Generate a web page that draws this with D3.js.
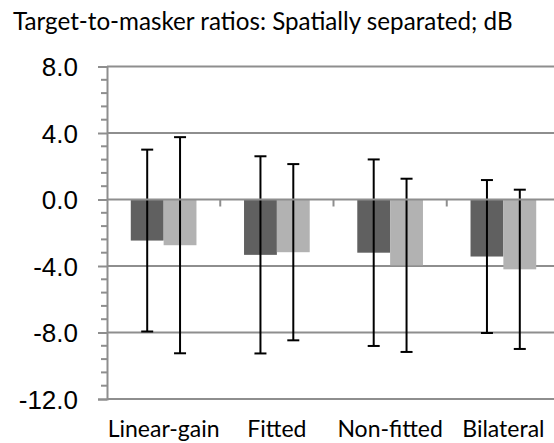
<!DOCTYPE html>
<html>
<head>
<meta charset="utf-8">
<script src="https://cdn.jsdelivr.net/npm/d3@7"></script>
<style>
  body { margin: 0; background: #fff; }
  svg { display: block; font-family: Lato, "Open Sans", sans-serif; }
</style>
</head>
<body>
<div id="chart"></div>
<script>
// chart values
const categories = ["Linear-gain", "Fitted", "Non-fitted", "Bilateral"];
const series = ["dark", "light"];
const darkMeans  = [-2.47, -3.33, -3.20, -3.43];
const darkErrs   = [ 5.47,  5.93,  5.61,  4.60];
const lightMeans = [-2.75, -3.17, -3.96, -4.20];
const lightErrs  = [ 6.50,  5.30,  5.21,  4.79];
const yTicks = [8, 4, 0, -4, -8, -12];
const titleText = "Target-to-masker ratios: Spatially separated; dB";

const width = 554, height = 443;
const colors = { dark: "#606060", light: "#b2b2b2" };
const gridColor = "#8e8e8e";

const svg = d3.select("#chart").append("svg")
  .attr("width", width)
  .attr("height", height);

// plot area runs a bit past the right edge, like the original
const x0 = d3.scaleBand().domain(categories).range([107, 560]);
const x1 = d3.scaleBand().domain(series)
  .range([x0.bandwidth() * 0.21, x0.bandwidth() * 0.79]);
const y = d3.scaleLinear().domain([-12, 8]).range([399, 66.5]);

// gridlines
svg.append("g")
  .selectAll("line")
  .data(yTicks.filter(t => t !== 0))
  .join("line")
    .attr("x1", 107).attr("x2", 560)
    .attr("y1", d => y(d)).attr("y2", d => y(d))
    .attr("stroke", gridColor)
    .attr("stroke-width", 2);

// minor ticks every 0.8
const minor = d3.range(-12, 8.01, 0.8).filter(v => Math.abs(v / 4 - Math.round(v / 4)) > 1e-6);
svg.append("g")
  .selectAll("line")
  .data(minor)
  .join("line")
    .attr("x1", 101).attr("x2", 107)
    .attr("y1", d => y(d)).attr("y2", d => y(d))
    .attr("stroke", gridColor)
    .attr("stroke-width", 2);

const yAxis = svg.append("g")
  .attr("transform", "translate(107,0)")
  .call(d3.axisLeft(y).tickValues(yTicks).tickSize(9)
    .tickFormat(d => d.toFixed(1)));
yAxis.select(".domain").attr("stroke", gridColor).attr("stroke-width", 2);
yAxis.selectAll(".tick line").attr("stroke", gridColor).attr("stroke-width", 2);
yAxis.selectAll(".tick text")
  .attr("font-size", 26)
  .attr("fill", "#000")
  .attr("dy", "0.36em")
  .attr("x", -29);

// bars
const rows = categories.map((c, i) => ({
  cat: c,
  vals: [
    { key: "dark",  mean: darkMeans[i],  err: darkErrs[i] },
    { key: "light", mean: lightMeans[i], err: lightErrs[i] }
  ]
}));

const groups = svg.append("g")
  .selectAll("g")
  .data(rows)
  .join("g")
    .attr("transform", d => `translate(${x0(d.cat)},0)`);

groups.selectAll("rect")
  .data(d => d.vals)
  .join("rect")
    .attr("x", d => x1(d.key))
    .attr("width", x1.bandwidth())
    .attr("y", d => y(Math.max(0, d.mean)))
    .attr("height", d => Math.abs(y(d.mean) - y(0)))
    .attr("fill", d => colors[d.key]);

// x axis along zero with category ticks pointing down
const xAxis = svg.append("g")
  .attr("transform", `translate(0,${y(0)})`);
xAxis.append("line")
  .attr("x1", 107).attr("x2", 560)
  .attr("stroke", gridColor).attr("stroke-width", 2);
xAxis.selectAll(".sep")
  .data(categories.slice(1))
  .join("line")
    .attr("class", "sep")
    .attr("x1", d => x0(d)).attr("x2", d => x0(d))
    .attr("y1", 0).attr("y2", 7)
    .attr("stroke", gridColor).attr("stroke-width", 2);

// error bars
const eb = groups.selectAll("g.err")
  .data(d => d.vals)
  .join("g")
    .attr("class", "err")
    .attr("transform", d => `translate(${x1(d.key) + x1.bandwidth() / 2},0)`);
eb.append("line")
  .attr("y1", d => y(d.mean + d.err))
  .attr("y2", d => y(d.mean - d.err))
  .attr("stroke", "#000").attr("stroke-width", 2);
eb.selectAll("line.cap")
  .data(d => [d.mean + d.err, d.mean - d.err])
  .join("line")
    .attr("class", "cap")
    .attr("x1", -6).attr("x2", 6)
    .attr("y1", v => y(v)).attr("y2", v => y(v))
    .attr("stroke", "#000").attr("stroke-width", 2);

// category labels
svg.append("g")
  .selectAll("text")
  .data(categories)
  .join("text")
    .attr("x", d => x0(d) + x0.bandwidth() / 2)
    .attr("y", 437)
    .attr("text-anchor", "middle")
    .attr("font-size", 23)
    .text(d => d);

// title
svg.append("text")
  .attr("x", 13)
  .attr("y", 30)
  .attr("font-size", 24.2)
  .text(titleText);
</script>
</body>
</html>
